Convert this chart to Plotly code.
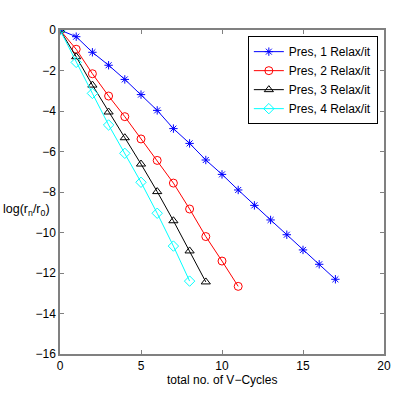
import plotly.graph_objects as go

x1 = list(range(0, 18))
y1 = [0, -0.33, -1.10, -1.74, -2.44, -3.19, -3.97, -4.87, -5.60, -6.42,
      -7.13, -7.90, -8.66, -9.38, -10.11, -10.86, -11.57, -12.31]
x2 = list(range(0, 12))
y2 = [0, -0.95, -2.16, -3.26, -4.28, -5.38, -6.44, -7.56, -8.84, -10.20, -11.41, -12.66]
x3 = list(range(0, 10))
y3 = [0, -1.32, -2.72, -4.05, -5.32, -6.62, -7.98, -9.42, -10.91, -12.44]
x4 = list(range(0, 9))
y4 = [0, -1.60, -3.13, -4.69, -6.09, -7.52, -9.05, -10.67, -12.40]

names = ["Pres, 1 Relax/it", "Pres, 2 Relax/it", "Pres, 3 Relax/it", "Pres, 4 Relax/it"]
colors = ["#0000ff", "#ff0000", "#000000", "#00ffff"]
symbols = ["asterisk-open", "circle-open", "triangle-up-open", "diamond-open"]
sizes = [7, 8, 8, 8]

fig = go.Figure()
for xs, ys, nm, c, s, sz in zip([x1, x2, x3, x4], [y1, y2, y3, y4], names, colors, symbols, sizes):
    fig.add_trace(go.Scatter(x=xs, y=ys, name=nm, mode="lines+markers",
                             line=dict(color=c, width=1),
                             marker=dict(symbol=s, size=sz, color=c, line=dict(color=c, width=1))))

ax = dict(showline=True, linecolor="#808080", linewidth=1.5, mirror="ticks",
          ticks="inside", ticklen=4, tickcolor="#808080", showgrid=False, zeroline=False,
          tickfont=dict(family="Liberation Sans, Arial", size=12, color="black"))
fig.update_xaxes(range=[0, 20], dtick=5, **ax)
fig.update_yaxes(range=[-16, 0], dtick=2, **ax)

# y label is horizontal, pushed against the left edge of the page
fig.add_annotation(text="log(r<sub>n</sub>/r<sub>0</sub>)", xref="paper", yref="paper",
                   x=-0.182, y=0.445, xanchor="left", yanchor="middle", showarrow=False,
                   font=dict(family="Liberation Sans, Arial", size=12.5, color="black"))
fig.add_annotation(text="total no. of V−Cycles", xref="paper", yref="paper",
                   x=0.5, y=-0.08, xanchor="center", yanchor="middle", showarrow=False,
                   font=dict(family="Liberation Sans, Arial", size=12, color="black"))

fig.update_layout(width=414, height=399, margin=dict(l=60, r=30, t=30, b=45),
                  plot_bgcolor="white", paper_bgcolor="white",
                  legend=dict(x=0.981, y=0.981, xanchor="right", yanchor="top",
                              bgcolor="white", bordercolor="black", borderwidth=1,
                              font=dict(family="Liberation Sans, Arial", size=12, color="black"),
                              tracegroupgap=0, itemwidth=30))

# drop the default 8px body margin so the figure sits at the page corner
fig.write_html("out.html", config={"displayModeBar": False},
               post_script="document.body.style.margin='0px';")
